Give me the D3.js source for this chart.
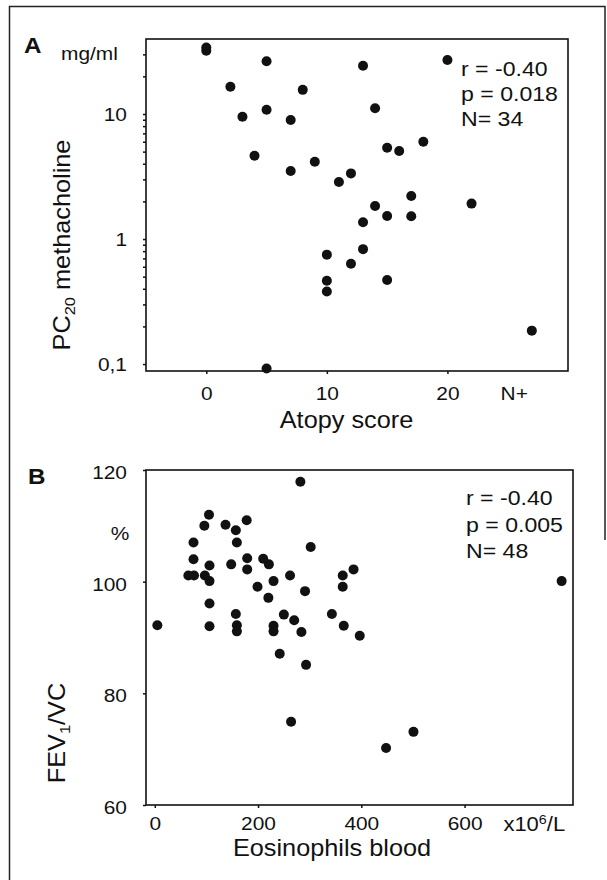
<!DOCTYPE html>
<html>
<head>
<meta charset="utf-8">
<script src="https://cdnjs.cloudflare.com/ajax/libs/d3/7.8.5/d3.min.js"></script>
<style>
body { margin: 0; background: #fff; }
text { font-family: "Liberation Sans", Arial, sans-serif; fill: #111; }
</style>
</head>
<body>
<div id="svgDiv"></div>
<script>
var w = 607;
var h = 880;

// panel A: atopy score vs PC20 methacholine (mg/ml, log)
var atopyScore = [0, 0, 5, 2, 8, 5, 3, 7, 4, 7, 9, 11, 12, 13, 20, 14, 18, 15, 16, 17,
	22, 14, 15, 17, 13, 13, 10, 12, 10, 15, 10, 27, 5];
var pc20 = [32.1, 34, 26.4, 16.5, 15.6, 10.8, 9.5, 8.95, 4.64, 3.5, 4.15, 2.86, 3.35, 24.3, 27.0, 11.1, 6.0, 5.37, 5.06, 2.21,
	1.92, 1.84, 1.53, 1.52, 1.36, 0.83, 0.75, 0.634, 0.464, 0.47, 0.381, 0.185, 0.092];
var atopyTicks = [0, 10, 20, 25.5];
var atopyTickLabels = ["0", "10", "20", "N+"];
var pcTicks = [0.1, 0.2, 0.3, 0.4, 0.5, 0.6, 0.7, 0.8, 0.9, 1, 2, 3, 4, 5, 6, 7, 8, 9, 10, 20, 30];
var pcLabels = {0.1: "0,1", 1: "1", 10: "10"};
var statsA = ["r = -0.40", "p = 0.018", "N= 34"];

// panel B: eosinophils blood vs FEV1/VC (%)
var eosinophils = [282, 105, 96, 137, 178, 157, 75, 159, 302, 75, 106, 148, 179, 179, 210, 221, 262, 65, 76, 97,
	106, 230, 364, 385, 364, 291, 199, 220, 106, 157, 250, 270, 343, 5, 106, 159, 159, 230, 230, 366,
	284, 397, 242, 293, 264, 448, 501, 788];
var fevVc = [117.9, 112.0, 110.0, 110.2, 111.0, 109.2, 107.0, 107.0, 106.2, 104.0, 102.9, 103.1, 104.2, 102.2, 104.1, 103.1, 101.1, 101.1, 101.1, 101.1,
	100.1, 100.1, 101.1, 102.2, 99.1, 98.3, 99.1, 97.1, 96.1, 94.2, 94.1, 93.1, 94.2, 92.2, 92.0, 92.2, 91.1, 92.1, 91.1, 92.1,
	91.0, 90.3, 87.1, 85.1, 74.9, 70.2, 73.1, 100.1];
var eosTicks = [0, 200, 400, 600];
var fevTicks = [60, 80, 100, 120];
var statsB = ["r = -0.40", "p = 0.005", "N= 48"];

// the scanned lettering is a bit wider than plain Arial
var sx = 1.1;

var svg = d3.select("#svgDiv")
	.append("svg")
	.attr("width", w)
	.attr("height", h);

// scanned page frame
svg.append("path")
	.attr("d", "M9.5,880 L9.5,6.5 L605,6.5 L605,540")
	.style("fill", "none")
	.style("stroke", "#222")
	.style("stroke-width", 1.5);

var xA = d3.scaleLinear().domain([-5, 30]).range([146, 568]);
var yA = d3.scaleLog().domain([0.088, 39.8]).range([371, 39]);

var xB = d3.scaleLinear().domain([-17, 810]).range([146, 573]);
var yB = d3.scaleLinear().domain([60, 120]).range([805, 470]);

function frame(x, y) {
	svg.append("rect")
		.attr("x", x.range()[0])
		.attr("y", y.range()[1])
		.attr("width", x.range()[1] - x.range()[0])
		.attr("height", y.range()[0] - y.range()[1])
		.style("fill", "none")
		.style("stroke", "#111")
		.style("stroke-width", 1.6);
}

function styleAxis(g, size) {
	g.select(".domain").remove();
	g.selectAll(".tick line").style("stroke", "#111").style("stroke-width", 1.5);
	g.selectAll(".tick text")
		.style("font-family", '"Liberation Sans", Arial, sans-serif')
		.style("font-size", size + "px")
		.style("fill", "#111")
		.attr("transform", "scale(" + sx + ",1)");
}

function label(x, y, size, extra) {
	return svg.append("text")
		.attr("transform", "translate(" + x + "," + y + ")" + (extra || "") + " scale(" + sx + ",1)")
		.style("font-size", size + "px");
}

// ---------- panel A ----------
frame(xA, yA);

var gxA = svg.append("g")
	.attr("transform", "translate(0," + yA.range()[0] + ")")
	.call(d3.axisBottom(xA)
		.tickValues(atopyTicks)
		.tickFormat(function (d, i) { return atopyTickLabels[i]; })
		.tickSize(3).tickPadding(13).tickSizeOuter(0));
styleAxis(gxA, 19);
gxA.selectAll(".tick line").filter(function (d) { return d == 25.5; }).remove();

var gyA = svg.append("g")
	.attr("transform", "translate(" + xA.range()[0] + ",0)")
	.call(d3.axisLeft(yA)
		.tickValues(pcTicks)
		.tickFormat(function (d) { return pcLabels[d] || ""; })
		.tickSize(3).tickSizeOuter(0));
styleAxis(gyA, 19);
gyA.selectAll(".tick text").attr("x", -19 / sx);

svg.selectAll(".ptA")
	.data(atopyScore)
	.enter()
	.append("circle")
	.classed("ptA", true)
	.attr("cx", function (d) { return xA(d); })
	.attr("cy", function (d, i) { return yA(pc20[i]); })
	.attr("r", 5)
	.style("fill", "#111");

label(24, 53, 22).style("font-weight", "bold").text("A");
label(61, 60, 19).text("mg/ml");

svg.selectAll(".statA")
	.data(statsA)
	.enter()
	.append("text")
	.classed("statA", true)
	.attr("transform", function (d, i) { return "translate(461," + (76 + i * 25) + ") scale(" + sx + ",1)"; })
	.style("font-size", "21px")
	.text(function (d) { return d; });

label(346.5, 428, 23).attr("text-anchor", "middle").text("Atopy score");

var tA = label(70, 245, 23, " rotate(-90)").attr("text-anchor", "middle");
tA.append("tspan").text("PC");
tA.append("tspan").attr("dy", 5).style("font-size", "15px").text("20");
tA.append("tspan").attr("dy", -5).text(" methacholine");

// ---------- panel B ----------
frame(xB, yB);

var gxB = svg.append("g")
	.attr("transform", "translate(0," + yB.range()[0] + ")")
	.call(d3.axisBottom(xB)
		.tickValues(eosTicks)
		.tickSize(3).tickPadding(9).tickSizeOuter(0));
styleAxis(gxB, 19);

var gyB = svg.append("g")
	.attr("transform", "translate(" + xB.range()[0] + ",0)")
	.call(d3.axisLeft(yB)
		.tickValues(fevTicks)
		.tickSize(3).tickSizeOuter(0));
styleAxis(gyB, 19);
gyB.selectAll(".tick text").attr("x", -19 / sx).attr("dy", "0.45em");

svg.selectAll(".ptB")
	.data(eosinophils)
	.enter()
	.append("circle")
	.classed("ptB", true)
	.attr("cx", function (d) { return xB(d); })
	.attr("cy", function (d, i) { return yB(fevVc[i]); })
	.attr("r", 5)
	.style("fill", "#111");

label(28, 484, 22).style("font-weight", "bold").text("B");
label(120, 540, 19).attr("text-anchor", "middle").text("%");

// unit label sits on the tick-label row
var unit = label(xB(735), yB.range()[0] + 25.5, 20).attr("text-anchor", "middle");
unit.append("tspan").text("x10");
unit.append("tspan").attr("dy", -7).style("font-size", "13px").text("6");
unit.append("tspan").attr("dy", 7).text("/L");

svg.selectAll(".statB")
	.data(statsB)
	.enter()
	.append("text")
	.classed("statB", true)
	.attr("transform", function (d, i) { return "translate(466," + (505 + i * 26.5) + ") scale(" + sx + ",1)"; })
	.style("font-size", "21px")
	.text(function (d) { return d; });

label(332, 856, 23).attr("text-anchor", "middle").text("Eosinophils blood");

var tB = label(65, 733, 23, " rotate(-90)").attr("text-anchor", "middle");
tB.append("tspan").text("FEV");
tB.append("tspan").attr("dy", 5).style("font-size", "15px").text("1");
tB.append("tspan").attr("dy", -5).text("/VC");
</script>
</body>
</html>
